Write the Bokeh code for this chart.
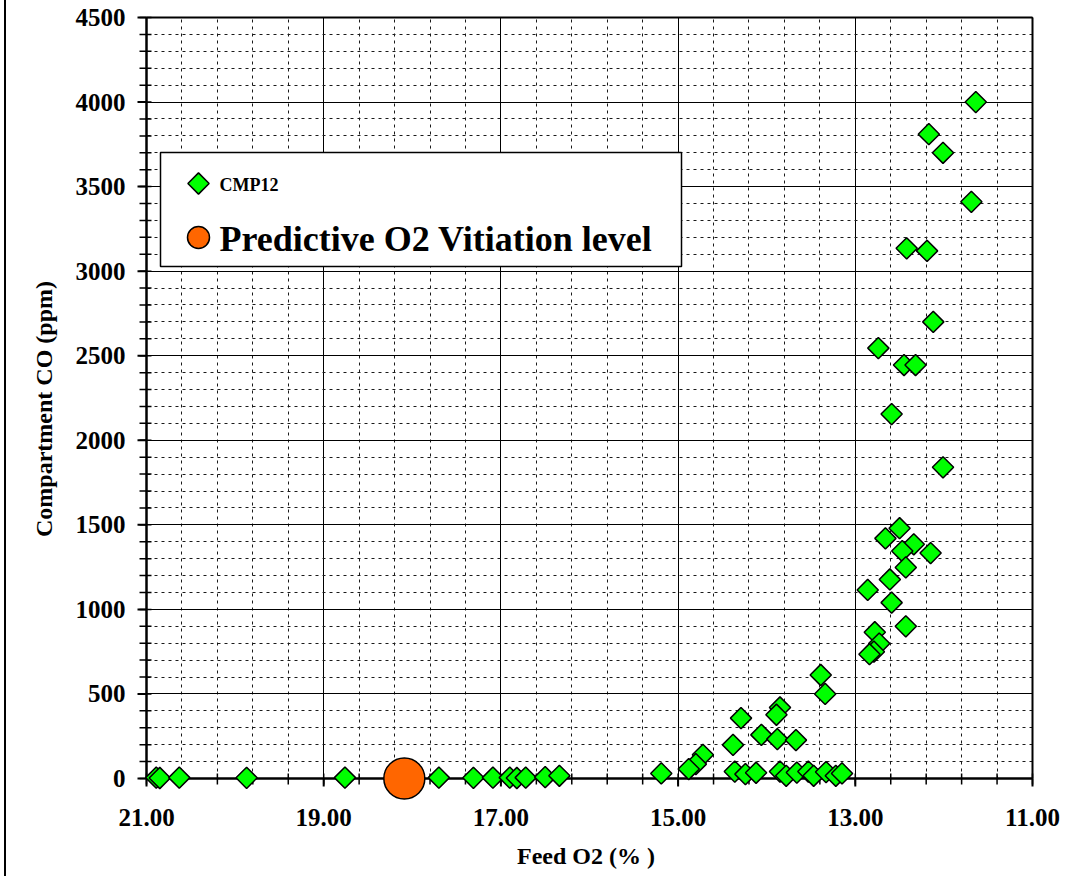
import numpy as np
from bokeh.plotting import figure
from bokeh.layouts import row
from bokeh.models import Range1d, FixedTicker, NumeralTickFormatter, Div
from bokeh.core.properties import value
from bokeh.embed import file_html
from bokeh.resources import INLINE

# ---------------- data ----------------
cmp12_o2 = [11.64, 12.17, 12.01, 11.69, 12.42, 12.19, 12.12, 12.74, 12.45, 12.32, 12.59, 12.01,
            12.50, 12.66, 12.34, 12.47, 12.15, 12.43, 12.61, 12.86, 12.59, 12.43, 12.78, 12.73,
            12.79, 12.84, 13.39, 13.34,
            13.85, 13.89, 14.29, 14.06, 13.88, 13.67, 14.38, 14.72, 14.80, 14.88, 15.19, 14.36,
            14.24, 14.12, 13.85, 13.78, 13.66, 13.53, 13.47, 13.33, 13.22, 13.15,
            20.89, 20.85, 20.63, 19.87, 18.76, 17.70, 17.31, 17.09, 16.90, 16.82, 16.72, 16.50, 16.34]
cmp12_co = [4000, 3810, 3700, 3410, 3135, 3120, 2700, 2545, 2445, 2445, 2155, 1840,
            1480, 1420, 1385, 1345, 1333, 1248, 1177, 1115, 1040, 900, 865, 798,
            750, 735, 612, 500,
            420, 377, 357, 258, 233, 227, 199, 140, 85, 56, 30, 41,
            26, 34, 41, 16, 35, 41, 16, 38, 16, 30,
            5, 3, 5, 4, 5, 5, 4, 5, 5, 3, 5, 8, 16]
pred_o2 = [18.09]
pred_co = [0]

x_major = [21, 19, 17, 15, 13, 11]
x_minor = [round(11 + 0.4 * i, 2) for i in range(26)]
y_major = list(range(0, 4501, 500))
y_minor = list(range(0, 4501, 100))

legend_labels = ["CMP12", "Predictive O2 Vitiation level"]

FONT = "Liberation Serif"

# ---------------- layout (page pixels) ----------------
PAGE_W, H = 1072, 876
OFF = 6                                   # strip on the left holding the outer border line
W = PAGE_W - OFF
AX_L, AX_R, AX_T, AX_B = 146 - OFF, 1032 - OFF, 17, 778   # axes box (canvas px)
FR_L, FR_R, FR_T, FR_B = 131 - OFF, 1040 - OFF, 9, 808    # drawing frame, a bit larger

xmin, xmax = x_major[0], x_major[-1]
ymin, ymax = y_major[0], y_major[-1]
ppx = (AX_R - AX_L) / (xmin - xmax)
ppy = (AX_B - AX_T) / (ymax - ymin)

p = figure(width=W, height=H, output_backend="svg", toolbar_location=None,
           x_range=Range1d(xmin + (AX_L - FR_L) / ppx, xmax - (FR_R - AX_R) / ppx),
           y_range=Range1d(ymin - (FR_B - AX_B) / ppy, ymax + (AX_T - FR_T) / ppy),
           min_border_left=FR_L, min_border_right=W - FR_R,
           min_border_top=FR_T, min_border_bottom=H - FR_B, margin=0)
p.extra_x_ranges = {"px": Range1d(FR_L, FR_R)}
p.extra_y_ranges = {"px": Range1d(FR_B, FR_T)}

p.outline_line_color = None
p.background_fill_color = "white"
p.border_fill_color = "white"

xt = FixedTicker(ticks=x_major, minor_ticks=x_minor)
yt = FixedTicker(ticks=y_major, minor_ticks=y_minor)
p.xaxis.ticker = xt
p.yaxis.ticker = yt
p.xgrid.ticker = xt
p.ygrid.ticker = yt
p.xaxis.formatter = NumeralTickFormatter(format="0.00")
p.yaxis.formatter = NumeralTickFormatter(format="0")

p.xgrid.bounds = (xmax, xmin)
p.ygrid.bounds = (ymin, ymax)
p.xgrid.cross_bounds = (ymin, ymax)
p.ygrid.cross_bounds = (xmax, xmin)
for g in (p.xgrid, p.ygrid):
    g.grid_line_color = "black"
    g.grid_line_width = 1
    g.minor_grid_line_color = "#1a1a1a"
    g.minor_grid_line_width = 1
    g.minor_grid_line_dash = "3 4"

for ax in (p.xaxis, p.yaxis):
    ax.axis_line_color = None
    ax.major_tick_line_color = None
    ax.minor_tick_line_color = None
    ax.major_tick_in = 0
    ax.major_tick_out = 0
    ax.minor_tick_in = 0
    ax.minor_tick_out = 0
    ax.major_label_text_font = FONT
    ax.major_label_text_font_style = "bold"
    ax.major_label_text_font_size = "25px"
    ax.major_label_text_color = "black"
    ax.axis_label_text_font = FONT
    ax.axis_label_text_font_style = "bold"
    ax.axis_label_text_font_size = "24px"
    ax.axis_label_text_color = "black"

p.xaxis.axis_label = "Feed O2 (% )"
p.yaxis.axis_label = "Compartment CO (ppm)"
p.xaxis.major_label_standoff = 0
p.xaxis.axis_label_standoff = 14
p.yaxis.major_label_standoff = AX_L - FR_L - 9
p.yaxis.axis_label_standoff = 16

# ---- axis box and ticks ----
p.segment(x0=[xmin, xmin], y0=[ymin, ymin], x1=[xmax, xmin], y1=[ymin, ymax],
          line_color="black", line_width=2.5)
p.segment(x0=[xmin, xmax], y0=[ymax, ymin], x1=[xmax, xmax], y1=[ymax, ymax],
          line_color="black", line_width=2)
p.segment(x0=x_major, x1=x_major, y0=[AX_B] * len(x_major), y1=[AX_B + 8] * len(x_major),
          y_range_name="px", line_color="black", line_width=2)
p.segment(x0=x_minor, x1=x_minor, y0=[AX_B - 5] * len(x_minor), y1=[AX_B + 6] * len(x_minor),
          y_range_name="px", line_color="black", line_width=1.5)
p.segment(y0=y_major, y1=y_major, x0=[AX_L - 9] * len(y_major), x1=[AX_L] * len(y_major),
          x_range_name="px", line_color="black", line_width=2)
p.segment(y0=y_minor, y1=y_minor, x0=[AX_L - 7] * len(y_minor), x1=[AX_L + 5] * len(y_minor),
          x_range_name="px", line_color="black", line_width=1.5)

# ---- data ----
p.scatter(cmp12_o2, cmp12_co, marker="square", size=15, angle=np.pi / 4,
          fill_color="#00FF00", line_color="black", line_width=1.5)
p.scatter(pred_o2, pred_co, marker="circle", size=41,
          fill_color="#FF6600", line_color="black", line_width=1.5)

# ---- legend (pixel space) ----
p.quad(left=[160 - OFF], right=[681 - OFF], top=[152], bottom=[266],
       x_range_name="px", y_range_name="px",
       fill_color="white", line_color="black", line_width=1.5)
p.scatter([198 - OFF], [183], marker="square", size=15, angle=np.pi / 4, x_range_name="px",
          y_range_name="px", fill_color="#00FF00", line_color="black", line_width=1.5)
p.scatter([198 - OFF], [237], marker="circle", size=22, x_range_name="px", y_range_name="px",
          fill_color="#FF6600", line_color="black", line_width=1.5)
p.text([219 - OFF], [184], text=[legend_labels[0]], x_range_name="px", y_range_name="px",
       text_font=value(FONT), text_font_style="bold", text_font_size="18px",
       text_baseline="middle", text_align="left", text_color="black")
p.text([219 - OFF], [238], text=[legend_labels[1]], x_range_name="px", y_range_name="px",
       text_font=value(FONT), text_font_style="bold", text_font_size="36px",
       text_baseline="middle", text_align="left", text_color="black")

# outer left border line of the chart (a narrow strip left of the figure)
strip = Div(text="", width=OFF, height=H, margin=0,
            styles={"background": "linear-gradient(90deg, #ffffff 0px, #ffffff 4px, #000000 4px, #000000 6px)"})

layout = row(strip, p, spacing=0, margin=0)
open("out.html", "w").write(file_html(layout, INLINE))
